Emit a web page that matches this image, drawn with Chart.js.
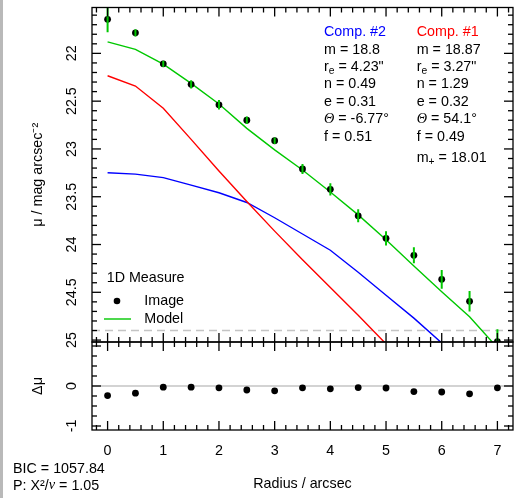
<!DOCTYPE html>
<html lang="en">
<head>
  <meta charset="utf-8">
  <title>1D surface brightness profile</title>

  <script type="text/javascript" src="https://cdn.jsdelivr.net/npm/chart.js"></script>
  <style type="text/css">
    html, body { margin:0; padding:0; background:#fff; overflow:hidden; }
    #edge { position:absolute; left:0; top:0; width:3px; height:498px; background:#b9b9b9; }
    #chart { position:absolute; left:0; top:0; }
  </style>
</head>
<body>

  <div id="edge"></div>
  <canvas id="chart" width="527" height="498"></canvas>

  <script type="text/javascript">
    // values
    const radius   = [0, 0.5, 1, 1.5, 2, 2.5, 3, 3.5, 4, 4.5, 5, 5.5, 6, 6.5, 7];
    const muImage  = [21.644, 21.785, 22.109, 22.324, 22.538, 22.70, 22.914, 23.21, 23.423, 23.70, 23.935, 24.113, 24.364, 24.594, 25.017];
    const muError  = [0.136, 0.038, 0.033, 0.044, 0.049, 0.04, 0.035, 0.052, 0.065, 0.068, 0.075, 0.084, 0.098, 0.108, 0.13];
    const muModel  = [21.879, 21.958, 22.112, 22.314, 22.53, 22.785, 23.01, 23.22, 23.45, 23.69, 23.95, 24.225, 24.494, 24.755, 25.08];
    const muComp1  = [22.234, 22.342, 22.575, 22.90, 23.23, 23.55, 23.86, 24.16, 24.45, 24.74, 25.04, null, null, null, null];
    const muComp2  = [23.249, 23.263, 23.30, 23.378, 23.458, 23.56, 23.72, 23.89, 24.06, 24.29, 24.53, 24.77, 25.03, null, null];
    const residual = [-0.24, -0.18, -0.03, -0.03, -0.045, -0.10, -0.12, -0.045, -0.07, -0.04, -0.05, -0.14, -0.15, -0.195, -0.045];
    const skyLimit = 24.9;

    const xTicks   = [0, 1, 2, 3, 4, 5, 6, 7];
    const muTicks  = [22, 22.5, 23, 23.5, 24, 24.5, 25];
    const resTicks = [-1, 0];

    const comp2Lines = ['m = 18.8', 'r_{e} = 4.23"', 'n = 0.49', 'e = 0.31', 'Θ = -6.77°', 'f = 0.51'];
    const comp1Lines = ['m = 18.87', 'r_{e} = 3.27"', 'n = 1.29', 'e = 0.32', 'Θ = 54.1°', 'f = 0.49'];
    const magTotal   = 'm_{+} = 18.01';
    const fitLines   = ['BIC = 1057.84', 'P: X²/ν = 1.05'];

    const GREEN = '#00c800';
    const FAMILY = '"Liberation Sans", Arial, sans-serif';
    const font = { family: FAMILY, size: 14.3 };

    // minor / major tick positions for the inward tick marks
    const xMinor = [], muMinor = [], resMinor = [];
    for (let k = -1; k <= 36; k++) if (k % 5) xMinor.push(k / 5);
    for (let k = 216; k <= 250; k++) if (k % 5) muMinor.push(k / 10);
    for (let k = -4; k <= 4; k++) if (k % 4) resMinor.push(k / 4);
    const resMajor = [-1, 0, 1];

    const pts = ys => radius.map((x, i) => ({ x, y: ys[i] }));
    const errBars = radius.flatMap((x, i) => [
      { x, y: muImage[i] - muError[i] }, { x, y: muImage[i] + muError[i] }, { x, y: null }
    ]);

    const richText = (ctx, text, x, y, size, color) => {
      let cx = x;
      text.split(/(_\{[^}]*\}|[Θν])/).filter(Boolean).forEach(p => {
        let t = p, dy = 0;
        ctx.font = size + 'px ' + FAMILY;
        if (p.startsWith('_{')) {
          t = p.slice(2, -1); dy = size * 0.3;
          ctx.font = (size * 0.72) + 'px ' + FAMILY;
        } else if (p === 'Θ' || p === 'ν') {
          ctx.font = 'italic ' + size + 'px "Liberation Serif", serif';
        }
        ctx.fillStyle = color;
        ctx.fillText(t, cx, y + dy);
        cx += ctx.measureText(t).width;
      });
    };

    // frames, inward ticks (both sides) and the rotated y tick labels
    const panelFrames = {
      id: 'panelFrames',
      afterDraw(chart) {
        const { ctx, scales: { x, y, yr } } = chart;
        const line = (x1, y1, x2, y2) => { ctx.beginPath(); ctx.moveTo(x1, y1); ctx.lineTo(x2, y2); ctx.stroke(); };
        ctx.save();
        ctx.strokeStyle = '#000';
        ctx.lineWidth = 1.3;
        [[y, muTicks, muMinor], [yr, resMajor, resMinor]].forEach(([s, major, minor]) => {
          ctx.strokeRect(x.left, s.top, x.right - x.left, s.bottom - s.top);
          const xt = (v, len) => {
            const px = x.getPixelForValue(v);
            line(px, s.top, px, s.top + len);
            line(px, s.bottom, px, s.bottom - len);
          };
          const yt = (v, len) => {
            const py = s.getPixelForValue(v);
            line(x.left, py, x.left + len, py);
            line(x.right, py, x.right - len, py);
          };
          xTicks.forEach(v => xt(v, 9));
          xMinor.forEach(v => xt(v, 5));
          major.forEach(v => yt(v, 9));
          minor.forEach(v => yt(v, 5));
        });

        ctx.fillStyle = '#000';
        ctx.font = '14.3px ' + FAMILY;
        ctx.textAlign = 'center';
        ctx.textBaseline = 'middle';
        [[y, muTicks], [yr, resTicks]].forEach(([s, ticks]) => ticks.forEach(v => {
          ctx.save();
          ctx.translate(x.left - 20, s.getPixelForValue(v));
          ctx.rotate(-Math.PI / 2);
          ctx.fillText(String(v), 0, 0);
          ctx.restore();
        }));
        ctx.restore();
      }
    };

    const annotations = {
      id: 'annotations',
      afterDraw(chart) {
        const ctx = chart.ctx;
        ctx.save();
        ctx.textBaseline = 'middle';
        ctx.textAlign = 'left';
        const step = 17.4;
        richText(ctx, 'Comp. #2', 324, 32.3, 14.3, '#0000ff');
        richText(ctx, 'Comp. #1', 416.7, 32.3, 14.3, '#ff0000');
        comp2Lines.forEach((t, i) => richText(ctx, t, 324, 32.3 + step * (i + 1), 14.3, '#000'));
        comp1Lines.forEach((t, i) => richText(ctx, t, 416.7, 32.3 + step * (i + 1), 14.3, '#000'));
        richText(ctx, magTotal, 416.7, 157.7, 14.3, '#000');

        // legend
        richText(ctx, '1D Measure', 106.7, 278.3, 14.3, '#000');
        ctx.fillStyle = '#000';
        ctx.beginPath(); ctx.arc(117, 301, 3.3, 0, Math.PI * 2); ctx.fill();
        richText(ctx, 'Image', 144.3, 301, 14.3, '#000');
        ctx.strokeStyle = GREEN; ctx.lineWidth = 1.4;
        ctx.beginPath(); ctx.moveTo(104, 319); ctx.lineTo(131, 319); ctx.stroke();
        richText(ctx, 'Model', 144.3, 319, 14.3, '#000');

        fitLines.forEach((t, i) => richText(ctx, t, 13, 469 + 16.7 * i, 14.3, '#000'));
        ctx.restore();
      }
    };

    const fitY = s => { s.width = 92; s.paddingTop = 0; s.paddingBottom = 0; };

    const muAxis = {
      type: 'linear', position: 'left', stack: 'panels', stackWeight: 334.5, weight: 1,
      min: 21.52, max: 25.02, reverse: true,
      grid: { display: false, drawTicks: false }, border: { display: false },
      afterBuildTicks: s => { s.ticks = muTicks.map(value => ({ value })); },
      afterFit: fitY,
      ticks: { display: false },
      title: { display: true, text: 'μ / mag arcsec⁻²', color: '#000', font, padding: { top: 29.4, bottom: 0 } }
    };
    const resAxis = {
      type: 'linear', position: 'left', stack: 'panels', stackWeight: 88, weight: 0,
      min: -1.1, max: 1.1,
      grid: { display: false, drawTicks: false }, border: { display: false },
      afterBuildTicks: s => { s.ticks = resTicks.map(value => ({ value })); },
      afterFit: fitY,
      ticks: { display: false },
      title: { display: true, text: 'Δμ', color: '#000', font, padding: { top: 29.4, bottom: 0 } }
    };

    new Chart(document.getElementById('chart'), {
      type: 'line',
      data: {
        datasets: [
          { label: 'error', data: errBars, yAxisID: 'y', borderColor: GREEN, borderWidth: 2, pointRadius: 0, spanGaps: false },
          { label: 'Image', data: pts(muImage), yAxisID: 'y', showLine: false, pointRadius: 3.4, pointBackgroundColor: '#000', pointBorderWidth: 0 },
          { label: 'Model', data: pts(muModel), yAxisID: 'y', borderColor: GREEN, borderWidth: 1.4, pointRadius: 0 },
          { label: 'Comp. #1', data: pts(muComp1), yAxisID: 'y', borderColor: '#ff0000', borderWidth: 1.4, pointRadius: 0 },
          { label: 'Comp. #2', data: pts(muComp2), yAxisID: 'y', borderColor: '#0000ff', borderWidth: 1.4, pointRadius: 0 },
          { label: 'limit', data: [{ x: -0.28, y: skyLimit }, { x: 7.28, y: skyLimit }], yAxisID: 'y', borderColor: '#c4c4c4', borderWidth: 1.4, borderDash: [8, 5], pointRadius: 0 },
          { label: 'residual', data: pts(residual), yAxisID: 'yr', showLine: false, pointRadius: 3.4, pointBackgroundColor: '#000', pointBorderWidth: 0 },
          { label: 'zero', data: [{ x: -0.28, y: 0 }, { x: 7.28, y: 0 }], yAxisID: 'yr', borderColor: '#c4c4c4', borderWidth: 1.4, pointRadius: 0 }
        ]
      },
      options: {
        responsive: false,
        animation: false,
        devicePixelRatio: 1,
        layout: { padding: { left: 0, right: 14, top: 7.5, bottom: 0 } },
        plugins: { legend: { display: false }, tooltip: { enabled: false } },
        scales: {
          x: {
            type: 'linear', position: 'bottom', min: -0.28, max: 7.28,
            grid: { display: false, drawTicks: false }, border: { display: false },
            afterBuildTicks: s => { s.ticks = xTicks.map(value => ({ value })); },
            afterFit: s => { s.height = 68; s.paddingLeft = 0; s.paddingRight = 0; },
            ticks: { color: '#000', font, padding: 12, maxRotation: 0, callback: v => String(v) },
            title: { display: true, text: 'Radius / arcsec', color: '#000', font, padding: { top: 0, bottom: 5 } }
          },
          yr: resAxis,
          y: muAxis
        }
      },
      plugins: [panelFrames, annotations]
    });
  </script>

</body>
</html>
